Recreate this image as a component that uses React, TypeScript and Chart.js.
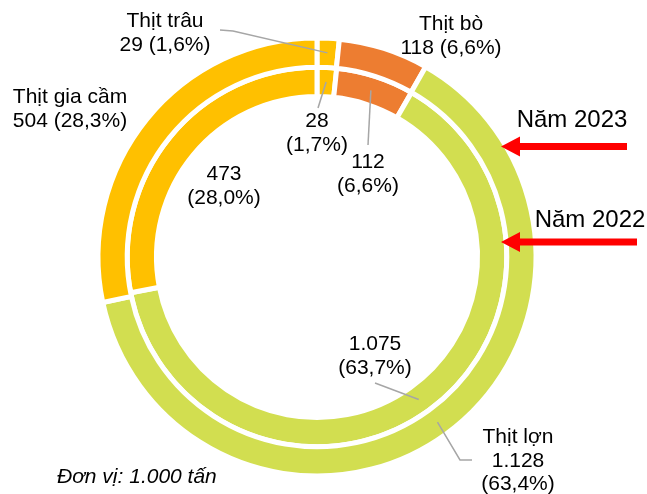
import React, { useEffect, useRef } from "react";
import { Chart, registerables } from "chart.js";

Chart.register(...registerables);

// ---- Data ----
const categories = ["Thịt trâu", "Thịt bò", "Thịt lợn", "Thịt gia cầm"];
const seriesNames = ["Năm 2023", "Năm 2022"];
const values2023 = [29, 118, 1128, 504];
const values2022 = [28, 112, 1075, 473];
const pct2023 = ["1,6%", "6,6%", "63,4%", "28,3%"];
const pct2022 = ["1,7%", "6,6%", "63,7%", "28,0%"];
const unitNote = "Đơn vị: 1.000 tấn";

const sliceColors = ["#FFC000", "#ED7D31", "#D2DE50", "#FFC000"];

function fmt(n: number): string {
  return String(n).replace(/\B(?=(\d{3})+(?!\d))/g, ".");
}

type Lay = {
  ds: number;
  i: number;
  kind: "nameLine" | "nameStack" | "valueStack";
  x: number;
  y: number;
  path?: number[][];
};

// label layout (annotation placement only)
const labelLayout: Lay[] = [
  { ds: 0, i: 0, kind: "nameLine", x: 165, y: 27, path: [[220, 30], [233, 31]] },
  { ds: 0, i: 1, kind: "nameLine", x: 451, y: 30 },
  { ds: 0, i: 2, kind: "nameStack", x: 518, y: 443, path: [[472, 460], [460, 460]] },
  { ds: 0, i: 3, kind: "nameLine", x: 70, y: 103 },
  { ds: 1, i: 0, kind: "valueStack", x: 317, y: 127, path: [[318, 108]] },
  { ds: 1, i: 1, kind: "valueStack", x: 368, y: 168, path: [[368, 145]] },
  { ds: 1, i: 2, kind: "valueStack", x: 375, y: 350, path: [[375, 383]] },
  { ds: 1, i: 3, kind: "valueStack", x: 224, y: 180 },
];

const seriesArrows = [
  { name: seriesNames[0], tx: 572, ty: 127, y: 146.5, x0: 627, tip: 501 },
  { name: seriesNames[1], tx: 590, ty: 227, y: 242, x0: 637, tip: 501 },
];

const FONT = "'Liberation Sans', Arial, sans-serif";
const LH = 23.5;

const annotPlugin = {
  id: "annot",
  afterDatasetsDraw(chart: any) {
    const ctx: CanvasRenderingContext2D = chart.ctx;
    ctx.save();
    // leader lines
    ctx.strokeStyle = "#A6A6A6";
    ctx.lineWidth = 1.5;
    labelLayout.forEach((L) => {
      if (!L.path) return;
      const el = chart.getDatasetMeta(L.ds).data[L.i];
      const c = el.getCenterPoint();
      ctx.beginPath();
      ctx.moveTo(L.path[0][0], L.path[0][1]);
      for (let k = 1; k < L.path.length; k++) ctx.lineTo(L.path[k][0], L.path[k][1]);
      ctx.lineTo(c.x, c.y);
      ctx.stroke();
    });

    // labels
    ctx.fillStyle = "#000";
    ctx.font = `21px ${FONT}`;
    ctx.textAlign = "center";
    ctx.textBaseline = "alphabetic";
    labelLayout.forEach((L) => {
      const vals = L.ds === 0 ? values2023 : values2022;
      const pcts = L.ds === 0 ? pct2023 : pct2022;
      let lines: string[];
      if (L.kind === "nameLine") {
        lines = [categories[L.i], `${fmt(vals[L.i])} (${pcts[L.i]})`];
      } else if (L.kind === "nameStack") {
        lines = [categories[L.i], fmt(vals[L.i]), `(${pcts[L.i]})`];
      } else {
        lines = [fmt(vals[L.i]), `(${pcts[L.i]})`];
      }
      lines.forEach((t, k) => ctx.fillText(t, L.x, L.y + k * LH));
    });

    // series arrows
    seriesArrows.forEach((a) => {
      ctx.fillStyle = "#FF0000";
      const headLen = 19;
      const headHalf = 10;
      const shaft = 3.5;
      ctx.beginPath();
      ctx.moveTo(a.x0, a.y - shaft);
      ctx.lineTo(a.tip + headLen, a.y - shaft);
      ctx.lineTo(a.tip + headLen, a.y - headHalf);
      ctx.lineTo(a.tip, a.y);
      ctx.lineTo(a.tip + headLen, a.y + headHalf);
      ctx.lineTo(a.tip + headLen, a.y + shaft);
      ctx.lineTo(a.x0, a.y + shaft);
      ctx.closePath();
      ctx.fill();
      ctx.fillStyle = "#000";
      ctx.font = `24px ${FONT}`;
      ctx.textAlign = "center";
      ctx.fillText(a.name, a.tx, a.ty);
    });

    // unit note
    ctx.font = `italic 21px ${FONT}`;
    ctx.textAlign = "left";
    ctx.fillStyle = "#000";
    ctx.fillText(unitNote, 57, 483);
    ctx.restore();
  },
};

export default function App() {
  const ref = useRef<HTMLCanvasElement | null>(null);
  useEffect(() => {
    if (!ref.current) return;
    const chart = new Chart(ref.current, {
      type: "doughnut",
      data: {
        labels: categories,
        datasets: [
          {
            label: seriesNames[0],
            data: values2023,
            backgroundColor: sliceColors,
            borderColor: "#FFFFFF",
            borderWidth: 5,
            borderJoinStyle: "miter",
          },
          {
            label: seriesNames[1],
            data: values2022,
            backgroundColor: sliceColors,
            borderColor: "#FFFFFF",
            borderWidth: 5,
            borderJoinStyle: "miter",
          },
        ],
      },
      options: {
        responsive: false,
        animation: false,
        devicePixelRatio: 1,
        radius: 219,
        cutout: "73.3%",
        rotation: 0,
        events: [],
        layout: { padding: { left: 0, right: 13, top: 20, bottom: 0 } },
        plugins: {
          legend: { display: false },
          tooltip: { enabled: false },
        },
      } as any,
      plugins: [annotPlugin],
    });
    return () => chart.destroy();
  }, []);

  return (
    <div style={{ position: "absolute", left: 0, top: 0, width: 647, height: 494, background: "#fff" }}>
      <canvas ref={ref} width={647} height={494} style={{ display: "block" }} />
    </div>
  );
}
